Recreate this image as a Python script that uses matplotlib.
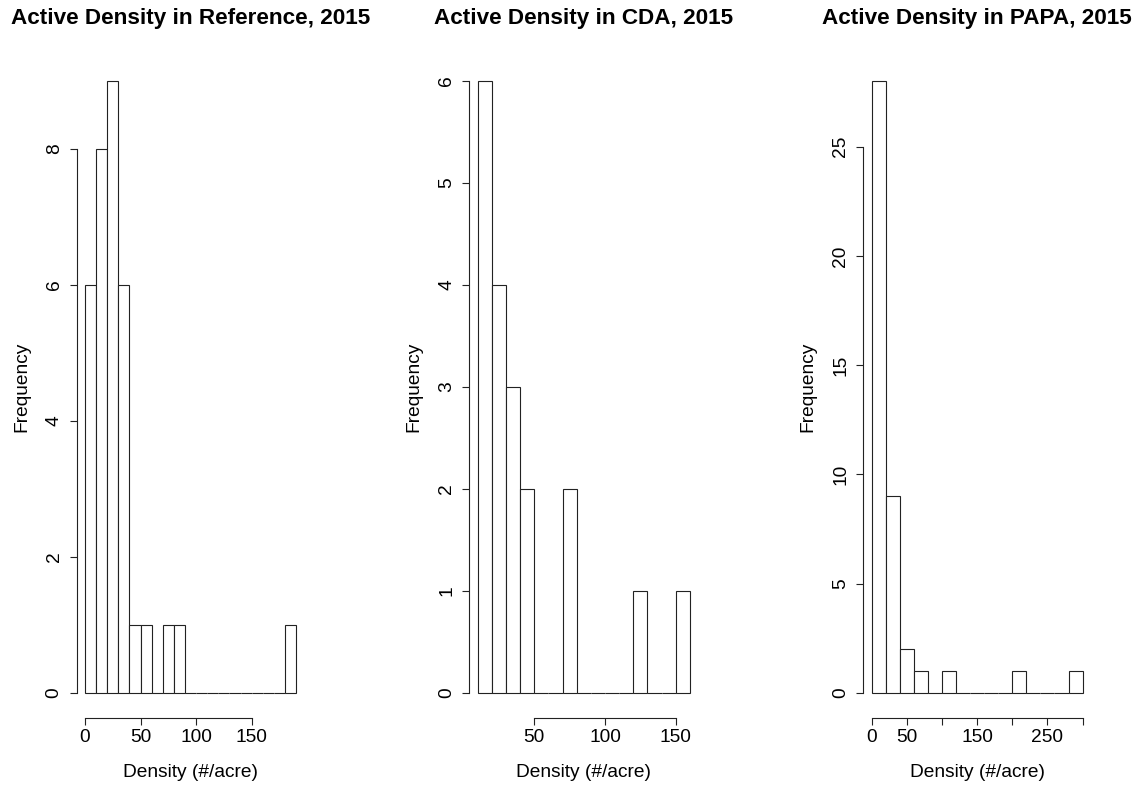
import numpy as np
import matplotlib
matplotlib.use("Agg")
import matplotlib.pyplot as plt

plt.rcParams["font.family"] = ["Liberation Sans", "DejaVu Sans"]

# histogram breaks and counts
ref_breaks = [0, 10, 20, 30, 40, 50, 60, 70, 80, 90, 100, 110, 120, 130, 140, 150, 160, 170, 180, 190]
ref_counts = [6, 8, 9, 6, 1, 1, 0, 1, 1, 0, 0, 0, 0, 0, 0, 0, 0, 0, 1]
ref_xticks = [0, 50, 100, 150]
ref_xlabels = ["0", "50", "100", "150"]
ref_yticks = [0, 2, 4, 6, 8]

cda_breaks = [10, 20, 30, 40, 50, 60, 70, 80, 90, 100, 110, 120, 130, 140, 150, 160]
cda_counts = [6, 4, 3, 2, 0, 0, 2, 0, 0, 0, 0, 1, 0, 0, 1]
cda_xticks = [50, 100, 150]
cda_xlabels = ["50", "100", "150"]
cda_yticks = [0, 1, 2, 3, 4, 5, 6]

papa_breaks = [0, 20, 40, 60, 80, 100, 120, 140, 160, 180, 200, 220, 240, 260, 280, 300]
papa_counts = [28, 9, 2, 1, 0, 1, 0, 0, 0, 0, 1, 0, 0, 0, 1]
papa_xticks = [0, 50, 100, 150, 200, 250, 300]
papa_xlabels = ["0", "50", "", "150", "", "250", ""]
papa_yticks = [0, 5, 10, 15, 20, 25]

titles = ["Active Density in Reference, 2015",
          "Active Density in CDA, 2015",
          "Active Density in PAPA, 2015"]

W, H = 1139, 785
fig = plt.figure(figsize=(W / 100, H / 100), dpi=100)

# plot regions in pixels (left, right), shared top/bottom
boxes = [(76.6, 304.6), (469.3, 698.3), (863.3, 1091.0)]
top_px, bot_px = 56.5, 717.5

panels = [
    (ref_breaks, ref_counts, ref_xticks, ref_xlabels, ref_yticks),
    (cda_breaks, cda_counts, cda_xticks, cda_xlabels, cda_yticks),
    (papa_breaks, papa_counts, papa_xticks, papa_xlabels, papa_yticks),
]

lw = 0.8
fs = 13.8
for i, (breaks, counts, xt, xl, yt) in enumerate(panels):
    l, r = boxes[i]
    ax = fig.add_axes([l / W, 1 - bot_px / H, (r - l) / W, (bot_px - top_px) / H])
    breaks = np.array(breaks, dtype=float)
    widths = np.diff(breaks)
    ax.bar(breaks[:-1], counts, width=widths, align="edge",
           facecolor="white", edgecolor="#222222", linewidth=lw)

    # R style 4% padding
    xr = breaks[-1] - breaks[0]
    ax.set_xlim(breaks[0] - 0.04 * xr, breaks[-1] + 0.04 * xr)
    ymax = max(counts)
    ax.set_ylim(-0.04 * ymax, ymax * 1.04)

    ax.set_xticks(xt)
    ax.set_xticklabels(xl)
    ax.set_yticks(yt)
    ax.set_yticklabels([str(v) for v in yt], rotation=90, va="center")

    for s in ["top", "right"]:
        ax.spines[s].set_visible(False)
    ax.spines["left"].set_bounds(yt[0], yt[-1])
    ax.spines["bottom"].set_bounds(xt[0], xt[-1])
    ax.spines["left"].set_linewidth(lw)
    ax.spines["bottom"].set_linewidth(lw)
    ax.spines["left"].set_color("#222222")
    ax.spines["bottom"].set_color("#222222")
    ax.tick_params(axis="both", direction="out", length=5, width=lw,
                   color="#222222", labelsize=fs)
    ax.tick_params(axis="x", pad=3.5)
    ax.tick_params(axis="y", pad=5)

    hh = bot_px - top_px
    ax.set_xlabel("Density (#/acre)", fontsize=fs)
    ax.xaxis.label.set_va("baseline")
    ax.xaxis.set_label_coords(0.5, (bot_px - 777) / hh)
    ax.set_ylabel("Frequency", fontsize=fs)
    ax.yaxis.label.set_va("center")
    ax.yaxis.set_label_coords(-55.0 / (r - l), 0.5)

    ax.text(0.5, (bot_px - 24) / hh, titles[i], transform=ax.transAxes,
            ha="center", va="baseline", fontsize=16.2, fontweight="bold")

fig.savefig("out.png", dpi=100, facecolor="white")
